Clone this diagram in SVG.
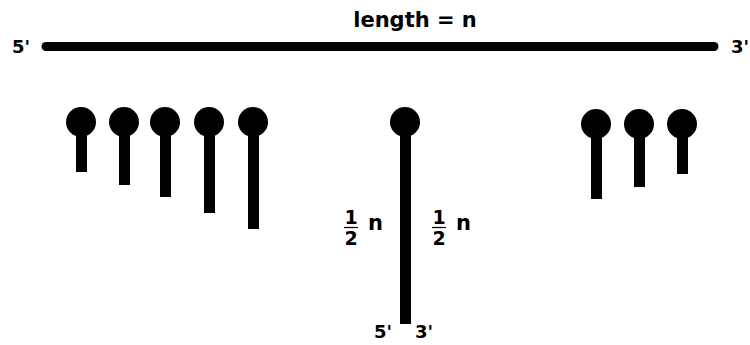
<svg xmlns="http://www.w3.org/2000/svg" width="750" height="345" viewBox="0 0 750 345">
<style>
text{font-family:"DejaVu Sans","Verdana",sans-serif;font-weight:bold;fill:#000}
.lbl{font-size:18px}
.title{font-size:21px}
.frac{font-size:19px}
.n{font-size:21px}
.stem{stroke:#000;stroke-width:11;stroke-linecap:butt}
.head{fill:#000}
.bar{stroke:#000;stroke-width:1.2}
</style>
<rect width="750" height="345" fill="#fff"/>
<g id="strand">
<line x1="46" y1="46.5" x2="714" y2="46.5" stroke="#000" stroke-width="9" stroke-linecap="round"/>
<text class="title" x="415" y="27" text-anchor="middle">length = n</text>
<text class="lbl" x="12" y="53">5'</text>
<text class="lbl" x="731" y="53">3'</text>
</g>
<g id="hairpin-l1"><line class="stem" x1="81.5" y1="122" x2="81.5" y2="172"/><circle class="head" cx="81" cy="122" r="15"/></g>
<g id="hairpin-l2"><line class="stem" x1="124.5" y1="122" x2="124.5" y2="185"/><circle class="head" cx="124" cy="122" r="15"/></g>
<g id="hairpin-l3"><line class="stem" x1="165.5" y1="122" x2="165.5" y2="197"/><circle class="head" cx="165" cy="122" r="15"/></g>
<g id="hairpin-l4"><line class="stem" x1="209.5" y1="122" x2="209.5" y2="213"/><circle class="head" cx="209" cy="122" r="15"/></g>
<g id="hairpin-l5"><line class="stem" x1="253.5" y1="122" x2="253.5" y2="229"/><circle class="head" cx="253" cy="122" r="15"/></g>
<g id="hairpin-mid">
<line class="stem" x1="405.5" y1="122" x2="405.5" y2="324"/><circle class="head" cx="405" cy="122" r="15"/>
<text class="frac" x="351" y="224" text-anchor="middle">1</text>
<line class="bar" x1="344" y1="227.5" x2="358" y2="227.5"/>
<text class="frac" x="351" y="245" text-anchor="middle">2</text>
<text class="n" x="368" y="230">n</text>
<text class="frac" x="439" y="224" text-anchor="middle">1</text>
<line class="bar" x1="432" y1="227.5" x2="446" y2="227.5"/>
<text class="frac" x="439" y="245" text-anchor="middle">2</text>
<text class="n" x="456" y="230">n</text>
<text class="lbl" x="374" y="338">5'</text>
<text class="lbl" x="415" y="338">3'</text>
</g>
<g id="hairpin-r1"><line class="stem" x1="596.5" y1="124" x2="596.5" y2="199"/><circle class="head" cx="596" cy="124" r="15"/></g>
<g id="hairpin-r2"><line class="stem" x1="639.5" y1="124" x2="639.5" y2="187"/><circle class="head" cx="639" cy="124" r="15"/></g>
<g id="hairpin-r3"><line class="stem" x1="682.5" y1="124" x2="682.5" y2="174"/><circle class="head" cx="682" cy="124" r="15"/></g>
</svg>
